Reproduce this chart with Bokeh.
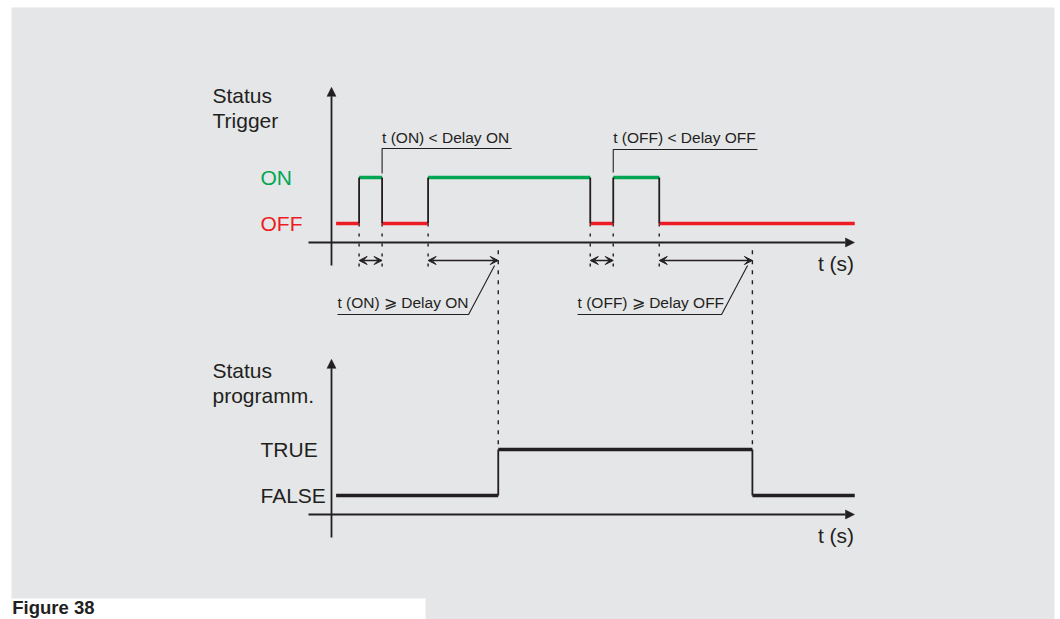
from bokeh.plotting import figure
from bokeh.models import Range1d, Arrow, NormalHead, VeeHead, BoxAnnotation
from bokeh.core.properties import value
from bokeh.embed import file_html
from bokeh.resources import INLINE

# ---------------- data (time in arbitrary units, levels 0/1) ----------------
trigger_times = [0.2, 1.2, 2.2, 4.2, 11.25, 12.25, 14.25, 22.75]
trigger_states = [0, 1, 0, 1, 0, 1, 0]
status_times = [0.2, 7.25, 18.3, 22.75]
status_states = [0, 1, 0]
trigger_levels = ["OFF", "ON"]
status_levels = ["FALSE", "TRUE"]
top_title = ["Status", "Trigger"]
bottom_title = ["Status", "programm."]
axis_label = "t (s)"
delay_spans_start = [1.2, 4.2, 11.25, 14.25]
delay_spans_end = [2.2, 7.25, 12.25, 18.3]
note_short_on = "t (ON) < Delay ON"
note_short_off = "t (OFF) < Delay OFF"
note_long_on = "t (ON) \u2A7E Delay ON"
note_long_off = "t (OFF) \u2A7E Delay OFF"
caption = "Figure 38"

# ---------------- style ----------------
INK = "#231f20"
RED = "#ed1c24"
GREEN = "#00a651"
BG = "#e5e6e8"
FONT = value("Liberation Sans")

TOP = 0.0          # baseline of upper panel (OFF)
BOT = -5.913       # baseline of lower panel (FALSE)

p = figure(width=1060, height=619,
           x_range=Range1d(-13.913, 31.435), y_range=Range1d(-8.609, 4.696),
           output_backend="svg", toolbar_location=None,
           x_axis_type=None, y_axis_type=None,
           min_border=0, min_border_left=11, min_border_right=6,
           min_border_top=7, min_border_bottom=0,
           outline_line_color=None)
p.background_fill_color = BG
p.border_fill_color = "white"

# white tab under caption
p.add_layout(BoxAnnotation(left=-14.5, right=4.09, bottom=-9.0, top=-8.152,
                           fill_color="white", fill_alpha=1.0, line_color=None, level="underlay"))

def axes(base):
    # time axis
    p.add_layout(Arrow(end=NormalHead(size=9, fill_color=INK, line_color=INK, line_width=0.5),
                       x_start=-1.0, y_start=base - 0.413, x_end=22.74, y_end=base - 0.413,
                       line_color=INK, line_width=1.8))
    # vertical axis
    p.add_layout(Arrow(end=NormalHead(size=9, fill_color=INK, line_color=INK, line_width=0.5),
                       x_start=0.0, y_start=base - 0.913, x_end=0.0, y_end=base + 2.96,
                       line_color=INK, line_width=1.8))

axes(TOP)
axes(BOT)

# ---------------- dashed guide lines ----------------
guide_x = trigger_times[1:-1]
p.segment(x0=guide_x, y0=[TOP] * len(guide_x), x1=guide_x, y1=[TOP - 1.02] * len(guide_x),
          line_color=INK, line_width=1.4, line_dash="3 7")
long_x = status_times[1:-1]
p.segment(x0=long_x, y0=[TOP - 0.58] * len(long_x), x1=long_x, y1=[BOT + 1] * len(long_x),
          line_color=INK, line_width=1.4, line_dash="4 6")

# ---------------- signals ----------------
def step(times, states, base, colors, hw):
    p.segment(x0=times[:-1], x1=times[1:],
              y0=[base + s for s in states], y1=[base + s for s in states],
              line_color=colors, line_width=hw)
    vx = times[1:-1]
    p.segment(x0=vx, x1=vx,
              y0=[base + states[i] for i in range(len(vx))],
              y1=[base + states[i + 1] for i in range(len(vx))],
              line_color=INK, line_width=1.8)

step(trigger_times, trigger_states, TOP, [GREEN if s else RED for s in trigger_states], 3.4)
step(status_times, status_states, BOT, [INK] * len(status_states), 3.4)

# ---------------- delay arrows ----------------
for a, b in zip(delay_spans_start, delay_spans_end):
    p.add_layout(Arrow(start=VeeHead(size=8, fill_color=INK, line_color=INK, line_width=1),
                       end=VeeHead(size=8, fill_color=INK, line_color=INK, line_width=1),
                       x_start=a, y_start=TOP - 0.804, x_end=b, y_end=TOP - 0.804,
                       line_color=INK, line_width=1.4))

# ---------------- annotation leaders ----------------
p.line(x=[trigger_times[2], trigger_times[2], 7.83], y=[TOP + 1.087, TOP + 1.63, TOP + 1.63],
       line_color=INK, line_width=1.1)
p.line(x=[trigger_times[5], trigger_times[5], 18.52], y=[TOP + 1.109, TOP + 1.609, TOP + 1.609],
       line_color=INK, line_width=1.1)
p.line(x=[0.26, 5.96, 7.09], y=[TOP - 1.978, TOP - 1.978, TOP - 0.913],
       line_color=INK, line_width=1.1)
p.line(x=[10.7, 16.96, 18.09], y=[TOP - 1.978, TOP - 1.978, TOP - 0.913],
       line_color=INK, line_width=1.1)

p.text(x=[trigger_times[2], trigger_times[5], 0.26, 10.7],
       y=[TOP + 1.87, TOP + 1.87, TOP - 1.72, TOP - 1.72],
       text=[note_short_on, note_short_off, note_long_on, note_long_off],
       text_font=FONT, text_font_size="15.5px", text_color=INK,
       text_align="left", text_baseline="middle")

# ---------------- labels ----------------
p.text(x=[-5.174, -5.174], y=[TOP + 2.772, TOP + 2.235], text=top_title,
       text_font=FONT, text_font_size="21px", text_color=INK,
       text_align="left", text_baseline="middle")
p.text(x=[-5.174, -5.174], y=[BOT + 2.722, BOT + 2.170], text=bottom_title,
       text_font=FONT, text_font_size="21px", text_color=INK,
       text_align="left", text_baseline="middle")
p.text(x=[-3.087, -3.087], y=[TOP + 0, TOP + 1], text=trigger_levels,
       text_font=FONT, text_font_size="21px", text_color=[RED, GREEN],
       text_align="left", text_baseline="middle")
p.text(x=[-3.087, -3.087], y=[BOT + 0, BOT + 1], text=status_levels,
       text_font=FONT, text_font_size="21px", text_color=INK,
       text_align="left", text_baseline="middle")
p.text(x=[22.72, 22.72], y=[TOP - 0.880, BOT - 0.859], text=[axis_label, axis_label],
       text_font=FONT, text_font_size="21px", text_color=INK,
       text_align="right", text_baseline="middle")
p.text(x=[-13.88], y=[-8.357], text=[caption],
       text_font=FONT, text_font_size="18.5px", text_font_style="bold", text_color=INK,
       text_align="left", text_baseline="middle")

open("out.html", "w").write(file_html(p, INLINE))
